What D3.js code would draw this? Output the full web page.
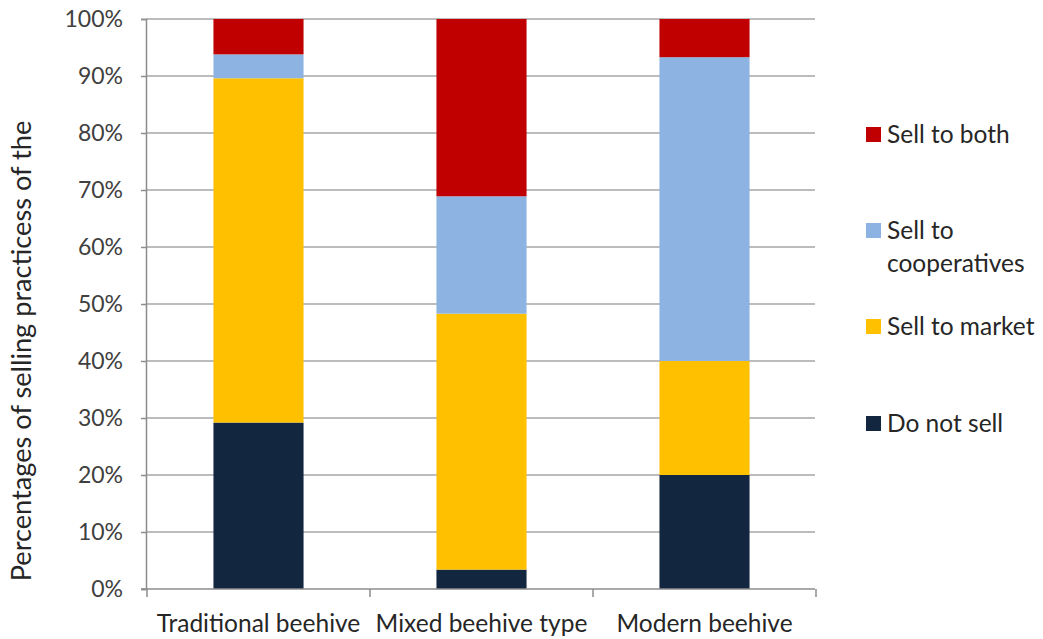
<!DOCTYPE html>
<html>
<head>
<meta charset="utf-8">
<script src="https://cdn.jsdelivr.net/npm/d3@7"></script>
<style>
  html, body { margin: 0; padding: 0; background: #fff; }
  svg { display: block; font-family: Lato, "Open Sans", sans-serif; }
</style>
</head>
<body>
<svg id="chart" width="1043" height="639"></svg>
<script>
const categories = ["Traditional beehive", "Mixed beehive type", "Modern beehive"];
const seriesNames = ["Do not sell", "Sell to market", "Sell to cooperatives", "Sell to both"];
const doNotSell = [29.2, 3.4, 20.0];
const sellToMarket = [60.4, 44.9, 20.0];
const sellToCooperatives = [4.2, 20.6, 53.3];
const sellToBoth = [6.2, 31.1, 6.7];
const seriesColors = ["#132640", "#FFC000", "#8DB3E2", "#C00000"];
const yTicks = [0, 10, 20, 30, 40, 50, 60, 70, 80, 90, 100];
const yTitle = "Percentages of selling practicess of the";

const rows = categories.map((c, i) => ({
  category: c,
  "Do not sell": doNotSell[i],
  "Sell to market": sellToMarket[i],
  "Sell to cooperatives": sellToCooperatives[i],
  "Sell to both": sellToBoth[i]
}));

const svg = d3.select("#chart");
const plot = { left: 146, right: 815, top: 19, bottom: 589 };

const x = d3.scaleBand().domain(categories).range([plot.left + 1, plot.right + 1])
  .paddingInner(0.596).paddingOuter(0.298);
const y = d3.scaleLinear().domain([0, 100]).range([plot.bottom, plot.top]);
const color = d3.scaleOrdinal().domain(seriesNames).range(seriesColors);

// gridlines
svg.append("g").selectAll("line").data(yTicks.filter(d => d > 0)).join("line")
  .attr("x1", plot.left).attr("x2", plot.right)
  .attr("y1", d => y(d)).attr("y2", d => y(d))
  .attr("stroke", "#A6A6A6").attr("stroke-width", 1.5);

// stacked bars
const stacked = d3.stack().keys(seriesNames)(rows);
svg.append("g").selectAll("g").data(stacked).join("g")
  .attr("fill", d => color(d.key))
  .selectAll("rect").data(d => d).join("rect")
  .attr("x", d => x(d.data.category))
  .attr("width", x.bandwidth())
  .attr("y", d => y(d[1]))
  .attr("height", d => y(d[0]) - y(d[1]));

// y axis
const yAxis = svg.append("g").attr("transform", `translate(${plot.left},0)`)
  .call(d3.axisLeft(y).tickValues(yTicks).tickFormat(d => d + "%").tickSize(5).tickPadding(18));
yAxis.select(".domain").attr("stroke", "#8C8C8C").attr("stroke-width", 1.5);
yAxis.selectAll(".tick line").attr("stroke", "#8C8C8C").attr("stroke-width", 1.5);
yAxis.selectAll(".tick text").attr("font-size", 23).attr("fill", "#404040")
  .attr("font-family", "Lato, 'Open Sans', sans-serif");

// x axis baseline and category separators
const xAxisG = svg.append("g");
xAxisG.append("line").attr("x1", plot.left - 5).attr("x2", plot.right)
  .attr("y1", y(0)).attr("y2", y(0)).attr("stroke", "#8C8C8C").attr("stroke-width", 1.5);
const sepPositions = categories.map(c => x(c) - x.step() * x.paddingInner() / 2)
  .concat([x(categories[categories.length - 1]) + x.bandwidth() + x.step() * x.paddingInner() / 2]);
xAxisG.selectAll("line.sep").data(sepPositions).join("line").attr("class", "sep")
  .attr("x1", d => d).attr("x2", d => d)
  .attr("y1", y(0)).attr("y2", y(0) + 8)
  .attr("stroke", "#8C8C8C").attr("stroke-width", 1.5);
xAxisG.selectAll("text").data(categories).join("text")
  .attr("x", d => x(d) + x.bandwidth() / 2)
  .attr("y", 632)
  .attr("text-anchor", "middle")
  .attr("font-size", 24.5).attr("fill", "#262626")
  .text(d => d);

// y title
svg.append("text")
  .attr("transform", `translate(31,351) rotate(-90)`)
  .attr("text-anchor", "middle")
  .attr("font-size", 27.2).attr("fill", "#262626")
  .text(yTitle);

// legend
const legendItems = [
  { key: "Sell to both", lines: ["Sell to both"], y: 135 },
  { key: "Sell to cooperatives", lines: ["Sell to", "cooperatives"], y: 231 },
  { key: "Sell to market", lines: ["Sell to market"], y: 327 },
  { key: "Do not sell", lines: ["Do not sell"], y: 424 }
];
const lg = svg.append("g").selectAll("g").data(legendItems).join("g")
  .attr("transform", d => `translate(866,${d.y})`);
lg.append("rect").attr("x", 0).attr("y", -8).attr("width", 15).attr("height", 15)
  .attr("fill", d => color(d.key));
lg.append("text").attr("x", 21).attr("y", 0).attr("font-size", 24.5).attr("fill", "#262626")
  .selectAll("tspan").data(d => d.lines).join("tspan")
  .attr("x", 21).attr("y", (d, i) => 8 + i * 33)
  .text(d => d);
</script>
</body>
</html>
